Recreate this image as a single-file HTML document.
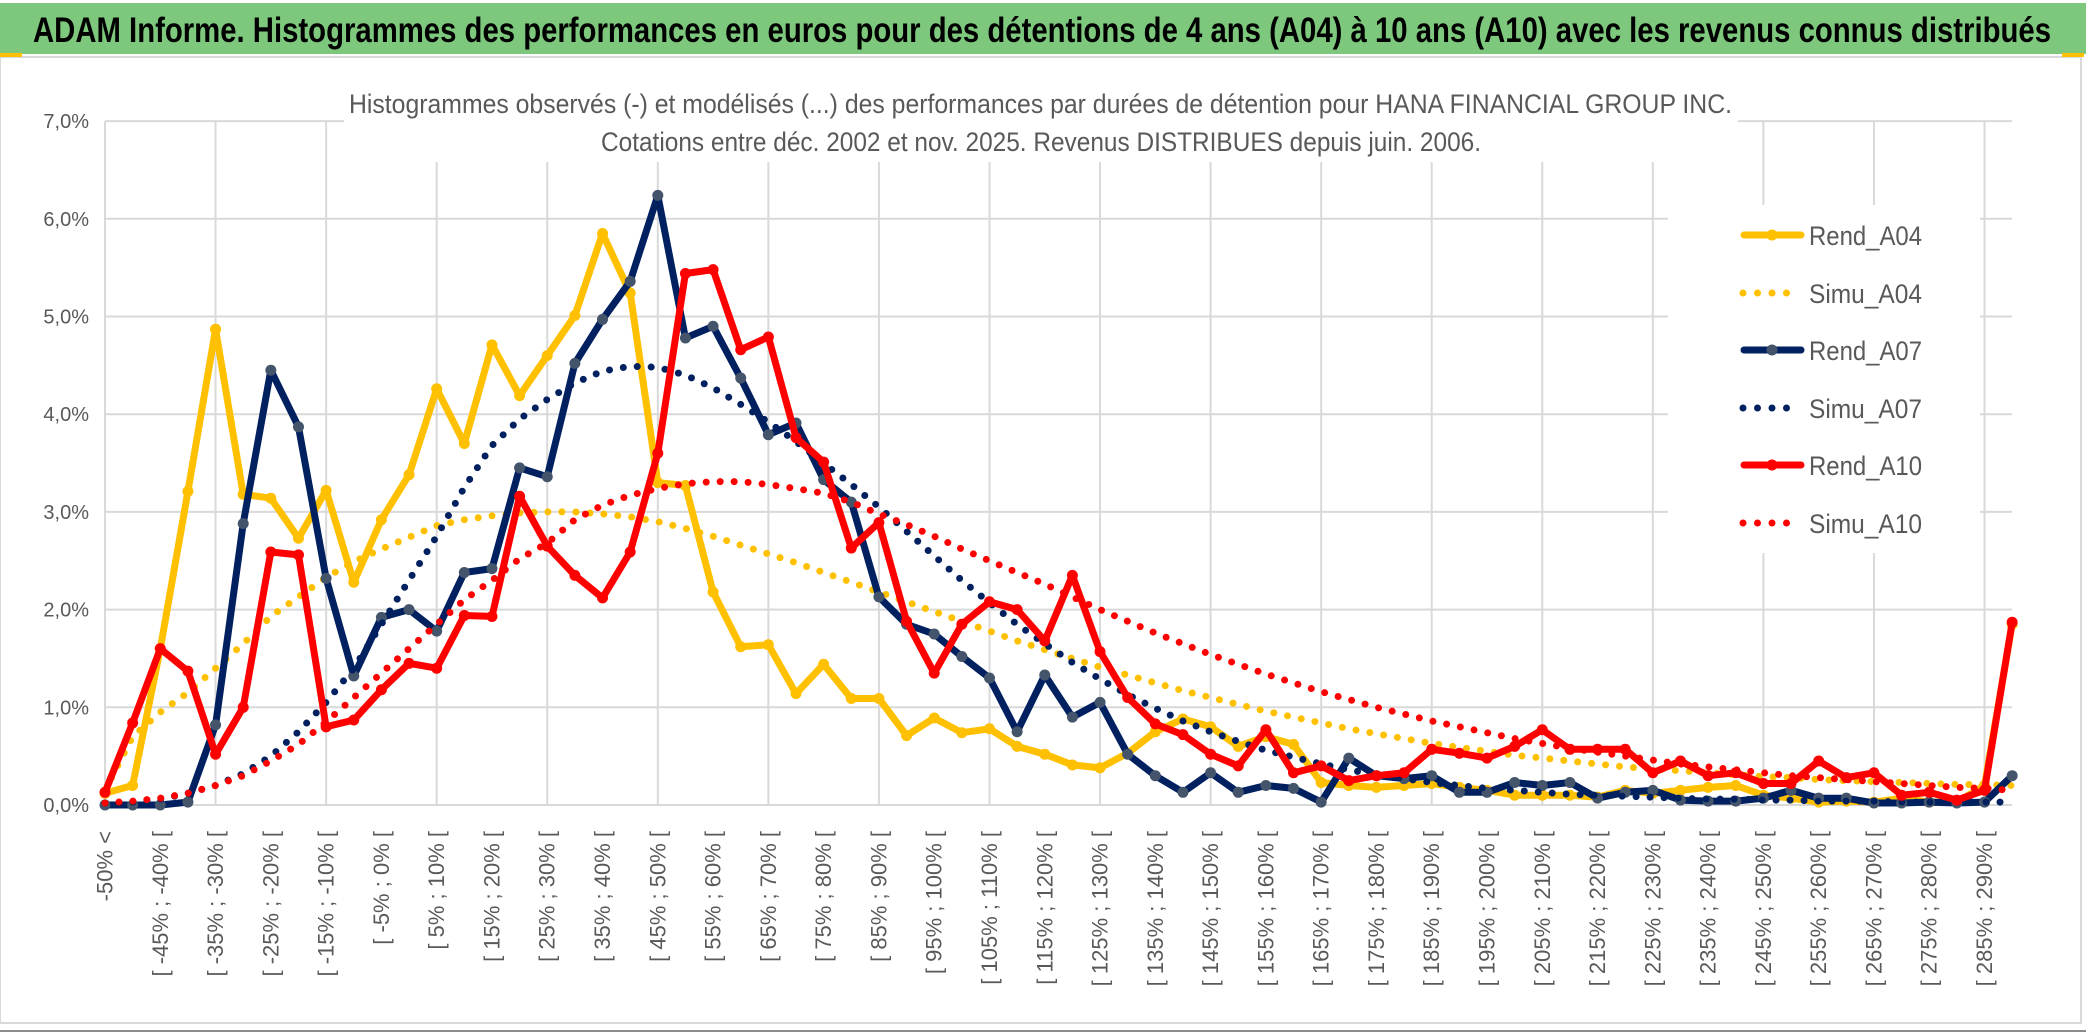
<!DOCTYPE html>
<html><head><meta charset="utf-8"><style>
html,body{margin:0;padding:0;background:#fff;}
svg{display:block;}
</style></head><body>
<svg id="chart" width="2086" height="1033" xmlns="http://www.w3.org/2000/svg">
<rect x="0" y="0" width="2086" height="1033" fill="#ffffff"/>
<rect x="0" y="3" width="2086" height="51" fill="#7dc87d"/>
<text x="33" y="42" font-family="'Liberation Sans', sans-serif" font-weight="bold" font-size="35" fill="#000" textLength="2018" lengthAdjust="spacingAndGlyphs">ADAM Informe. Histogrammes des performances en euros pour des détentions de 4 ans (A04) à 10 ans (A10) avec les revenus connus distribués</text>
<rect x="0" y="57" width="2081" height="966" fill="none" stroke="#d9d9d9" stroke-width="2"/>
<rect x="0" y="53" width="22" height="4" fill="#ffc000"/>
<rect x="2062" y="53" width="22" height="4" fill="#ffc000"/>
<line x1="0" y1="1031" x2="2086" y2="1031" stroke="#8c8c8c" stroke-width="2"/>
<g id="grid"></g>
<rect x="344" y="80" width="1394" height="82" fill="#ffffff"/>
<text x="349" y="113" font-family="'Liberation Sans', sans-serif" font-size="27" fill="#595959" textLength="1383" lengthAdjust="spacingAndGlyphs">Histogrammes observés (-) et modélisés (...) des performances par durées de détention pour HANA FINANCIAL GROUP INC.</text>
<text x="601" y="151" font-family="'Liberation Sans', sans-serif" font-size="27" fill="#595959" textLength="880" lengthAdjust="spacingAndGlyphs">Cotations entre déc. 2002 et nov. 2025. Revenus DISTRIBUES depuis juin. 2006.</text>
<g id="yaxis"></g>
<g id="xaxis"></g>
<rect x="1668" y="205" width="312" height="348" fill="#ffffff"/>
<g id="series"></g>
<g id="legend"></g>
</svg>
<script>
const rendA04 = [0.12,0.2,1.6,3.21,4.87,3.18,3.14,2.73,3.22,2.28,2.92,3.38,4.26,3.7,4.71,4.19,4.6,5.01,5.85,5.24,3.3,3.27,2.18,1.62,1.64,1.14,1.44,1.09,1.09,0.71,0.89,0.74,0.78,0.6,0.52,0.41,0.38,0.53,0.75,0.88,0.8,0.6,0.7,0.62,0.23,0.2,0.18,0.2,0.22,0.18,0.15,0.1,0.1,0.1,0.08,0.15,0.12,0.15,0.18,0.2,0.1,0.07,0.03,0.04,0.03,0.07,0.03,0.03,0.2,1.85];
const simuA04 = [0.15,0.7,0.95,1.15,1.4,1.65,1.93,2.13,2.33,2.49,2.62,2.74,2.86,2.92,2.96,2.99,3.0,3.0,2.98,2.95,2.9,2.83,2.75,2.66,2.57,2.48,2.38,2.28,2.18,2.08,1.98,1.88,1.78,1.68,1.59,1.5,1.41,1.33,1.25,1.17,1.1,1.03,0.96,0.9,0.84,0.78,0.73,0.68,0.63,0.59,0.55,0.51,0.48,0.45,0.42,0.39,0.37,0.35,0.33,0.31,0.29,0.28,0.26,0.25,0.24,0.23,0.22,0.21,0.21,0.2];
const rendA07 = [0,0,0,0.03,0.82,2.88,4.45,3.87,2.32,1.32,1.92,2.0,1.78,2.38,2.42,3.45,3.36,4.52,4.97,5.36,6.24,4.78,4.9,4.37,3.79,3.91,3.33,3.1,2.13,1.85,1.75,1.52,1.3,0.75,1.33,0.9,1.05,0.52,0.3,0.13,0.33,0.13,0.2,0.17,0.03,0.48,0.3,0.27,0.3,0.13,0.13,0.23,0.2,0.23,0.07,0.13,0.15,0.05,0.04,0.04,0.07,0.15,0.07,0.07,0.02,0.02,0.03,0.02,0.03,0.3];
const simuA07 = [0.02,0.03,0.06,0.12,0.2,0.32,0.5,0.75,1.05,1.4,1.85,2.3,2.75,3.25,3.68,3.95,4.15,4.32,4.44,4.49,4.48,4.4,4.27,4.1,3.92,3.72,3.5,3.28,3.05,2.8,2.55,2.3,2.07,1.85,1.65,1.46,1.29,1.13,0.99,0.86,0.75,0.65,0.56,0.49,0.42,0.36,0.31,0.27,0.23,0.2,0.17,0.15,0.13,0.11,0.1,0.09,0.08,0.07,0.06,0.06,0.05,0.05,0.04,0.04,0.04,0.03,0.03,0.03,0.03,0.03];
const rendA10 = [0.13,0.84,1.6,1.37,0.52,1.0,2.59,2.56,0.8,0.87,1.18,1.45,1.4,1.94,1.93,3.16,2.65,2.35,2.12,2.59,3.6,5.44,5.48,4.66,4.79,3.76,3.51,2.63,2.89,1.88,1.35,1.85,2.08,2.0,1.68,2.35,1.57,1.1,0.83,0.72,0.52,0.4,0.77,0.33,0.4,0.25,0.3,0.33,0.57,0.53,0.48,0.6,0.77,0.57,0.57,0.57,0.33,0.45,0.3,0.33,0.22,0.22,0.45,0.28,0.33,0.1,0.13,0.05,0.15,1.87];
const simuA10 = [0.02,0.04,0.07,0.12,0.2,0.3,0.45,0.62,0.85,1.1,1.35,1.6,1.85,2.1,2.3,2.52,2.68,2.92,3.07,3.17,3.24,3.29,3.31,3.31,3.28,3.24,3.19,3.1,2.98,2.87,2.75,2.62,2.5,2.38,2.26,2.13,2.0,1.88,1.76,1.65,1.54,1.44,1.34,1.25,1.16,1.08,1.0,0.93,0.86,0.8,0.74,0.68,0.63,0.58,0.54,0.5,0.46,0.42,0.39,0.36,0.33,0.3,0.28,0.26,0.24,0.22,0.2,0.18,0.17,0.15];
const yTicks = [0,1,2,3,4,5,6,7];
const yTickLabels = ["0,0%","1,0%","2,0%","3,0%","4,0%","5,0%","6,0%","7,0%"];
const categories = ["-50% <"];
for (let n = 1; n <= 68; n++) { const a = -50 + 5*(n-1); categories.push("[ " + a + "% ; " + (a+5) + "% ["); }
categories.push("> 290%");

const NS = "http://www.w3.org/2000/svg";
const X0 = 105, DX = 27.64, Y0 = 805, DY = 97.7;
function xScale(i){ return X0 + i*DX; }
function yScale(v){ return Y0 - v*DY; }
function mk(tag, attrs, parent){ const e = document.createElementNS(NS, tag); for (const k in attrs) e.setAttribute(k, attrs[k]); parent.appendChild(e); return e; }

const grid = document.getElementById('grid');
const yaxis = document.getElementById('yaxis');
const xaxis = document.getElementById('xaxis');
const series = document.getElementById('series');
const legend = document.getElementById('legend');
const xEnd = xScale(categories.length - 1);

yTicks.forEach((t, k) => {
  const l = mk('line', {x1: X0, x2: xEnd, y1: yScale(t), y2: yScale(t), stroke: '#d9d9d9', 'stroke-width': 2}, grid);
  
  
  const tx = mk('text', {x: 89, y: yScale(t) + 7, 'text-anchor': 'end', 'font-family': "'Liberation Sans', sans-serif", 'font-size': 20, fill: '#595959'}, yaxis);
  tx.textContent = yTickLabels[k];
  
  
});
for (let i = 0; i < categories.length; i += 4) {
  const l = mk('line', {x1: xScale(i), x2: xScale(i), y1: yScale(7), y2: Y0, stroke: '#d9d9d9', 'stroke-width': 2}, grid);
  
  
}
categories.forEach((c, i) => {
  if (i % 2 !== 0) return;
  const x = xScale(i), y = 831;
  const tx = mk('text', {x: x, y: y, transform: 'rotate(-90 ' + x + ' ' + y + ')', 'text-anchor': 'end', 'dominant-baseline': 'central', 'font-family': "'Liberation Sans', sans-serif", 'font-size': 22, fill: '#595959'}, xaxis);
  tx.textContent = c;
  
  
});

function pts(arr){ return arr.map((v, i) => xScale(i).toFixed(1) + ',' + yScale(v).toFixed(1)).join(' '); }
function drawRend(arr, color, mcolor, name){
  const g = mk('g', {}, series);
  
  
  mk('polyline', {points: pts(arr), fill: 'none', stroke: color, 'stroke-width': 7, 'stroke-linejoin': 'round', 'stroke-linecap': 'round'}, g);
  arr.forEach((v, i) => {
    const c = mk('circle', {cx: xScale(i), cy: yScale(v), r: 5.5, fill: mcolor}, g);
    
    
  });
}
function drawSimu(arr, color, name){
  const p = mk('polyline', {points: pts(arr), fill: 'none', stroke: color, 'stroke-width': 7, 'stroke-linecap': 'round', 'stroke-dasharray': '0 14'}, series);
  
  
}
drawRend(rendA04, '#ffc000', '#ffc000', 'rend-a04-line');
drawSimu(simuA04, '#ffc000', 'simu-a04-line');
drawRend(rendA07, '#002060', '#44546a', 'rend-a07-line');
drawSimu(simuA07, '#002060', 'simu-a07-line');
drawRend(rendA10, '#ff0000', '#ff0000', 'rend-a10-line');
drawSimu(simuA10, '#ff0000', 'simu-a10-line');

const legendItems = [
  {label: 'Rend_A04', color: '#ffc000', m: '#ffc000', dotted: false, y: 235},
  {label: 'Simu_A04', color: '#ffc000', dotted: true, y: 293},
  {label: 'Rend_A07', color: '#002060', m: '#44546a', dotted: false, y: 350},
  {label: 'Simu_A07', color: '#002060', dotted: true, y: 408},
  {label: 'Rend_A10', color: '#ff0000', m: '#ff0000', dotted: false, y: 465},
  {label: 'Simu_A10', color: '#ff0000', dotted: true, y: 523}
];
legendItems.forEach(it => {
  const g = mk('g', {}, legend);
  
  
  if (it.dotted) {
    mk('line', {x1: 1743, x2: 1800, y1: it.y, y2: it.y, stroke: it.color, 'stroke-width': 7, 'stroke-linecap': 'round', 'stroke-dasharray': '0 14.5'}, g);
  } else {
    mk('line', {x1: 1744, x2: 1801, y1: it.y, y2: it.y, stroke: it.color, 'stroke-width': 7, 'stroke-linecap': 'round'}, g);
    mk('circle', {cx: 1772, cy: it.y, r: 5.5, fill: it.m}, g);
  }
  const t = mk('text', {x: 1809, y: it.y + 10, 'font-family': "'Liberation Sans', sans-serif", 'font-size': 27, fill: '#595959', textLength: 113, lengthAdjust: 'spacingAndGlyphs'}, g);
  t.textContent = it.label;
  
  
});
</script>
</body></html>
